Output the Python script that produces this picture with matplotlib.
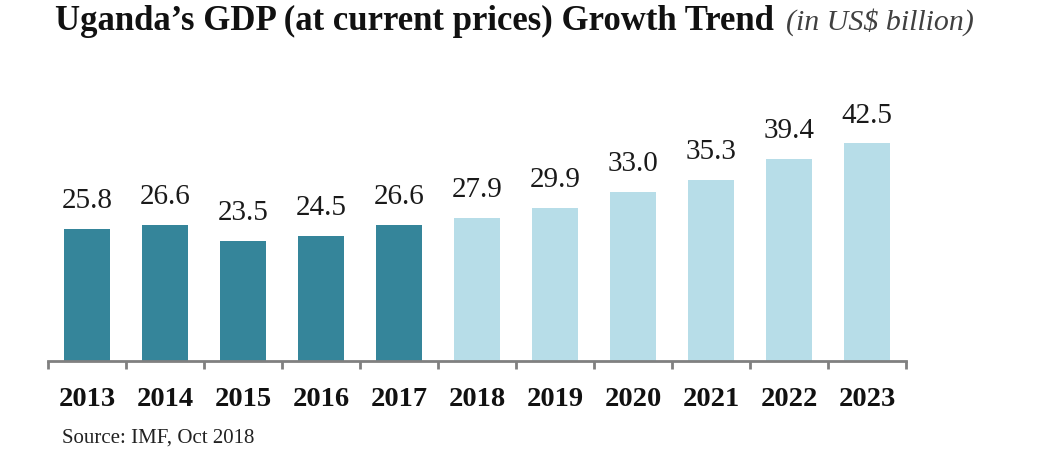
import numpy as np
import matplotlib.pyplot as plt

years = ['2013', '2014', '2015', '2016', '2017', '2018', '2019', '2020', '2021', '2022', '2023']
gdp = [25.8, 26.6, 23.5, 24.5, 26.6, 27.9, 29.9, 33.0, 35.3, 39.4, 42.5]
n_actual = 5  # 2013-2017 actual, rest projections

dark = '#35859a'
light = '#b7dde8'
colors = [dark] * n_actual + [light] * (len(years) - n_actual)

plt.rcParams['font.family'] = ['Liberation Serif', 'DejaVu Serif']

W, H = 1052, 468
fig = plt.figure(figsize=(W / 100, H / 100), dpi=100)
ax = fig.add_axes([48 / W, (H - 361) / H, (906 - 48) / W, 256 / H])

x = np.arange(len(years))
bars = ax.bar(x, gdp, width=0.6, color=colors)
ax.set_xlim(-0.5, len(years) - 0.5)
ax.set_ylim(0, 50)

for xi, v in zip(x, gdp):
    ax.annotate(f'{v:.1f}', (xi, v), xytext=(0, 15), textcoords='offset points',
                ha='center', va='baseline', fontsize=21, color='#1a1a1a')

for s in ['top', 'left', 'right']:
    ax.spines[s].set_visible(False)
ax.spines['bottom'].set_color('#808080')
ax.spines['bottom'].set_linewidth(2)
ax.set_yticks([])
ax.set_xticks(x)
ax.set_xticklabels(years, fontsize=20.5, fontweight='bold', color='#111111')
ax.tick_params(axis='x', which='major', length=0, pad=19)
ax.set_xticks(np.arange(-0.5, len(years)), minor=True)
ax.tick_params(axis='x', which='minor', length=6, width=2, color='#808080', direction='out')

t1 = fig.text(55 / W, 1 - 30 / H, "Uganda\u2019s GDP (at current prices) Growth Trend",
              fontsize=25, fontweight='bold', va='baseline', ha='left', color='#111111')
fig.canvas.draw()
bb = t1.get_window_extent()
fig.text((bb.x1 + 12) / W, 1 - 30 / H, "(in US$ billion)", fontsize=21.5, fontstyle='italic',
         va='baseline', ha='left', color='#404040')

fig.text(62 / W, 1 - 443 / H, 'Source: IMF, Oct 2018', fontsize=15, va='baseline', ha='left', color='#222222')

fig.savefig('out.png', dpi=100)
